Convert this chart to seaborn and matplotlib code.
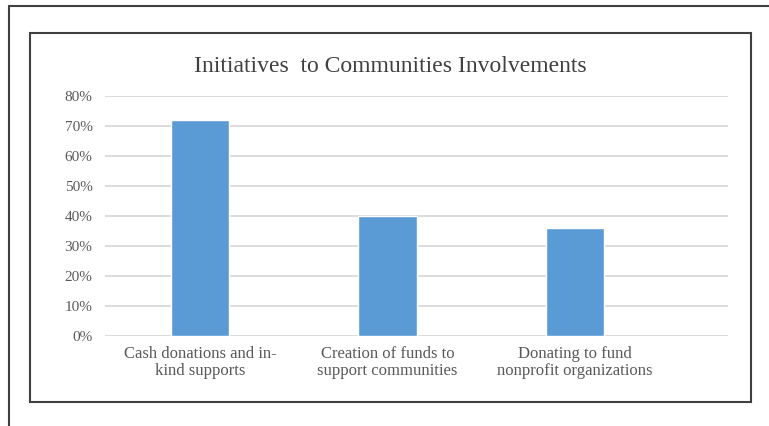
import matplotlib
matplotlib.use("Agg")
import matplotlib.pyplot as plt
import seaborn as sns
import pandas as pd
from matplotlib.lines import Line2D
from matplotlib.patches import Rectangle
from matplotlib.ticker import PercentFormatter

categories = ["Cash donations and in-\nkind supports",
              "Creation of funds to\nsupport communities",
              "Donating to fund\nnonprofit organizations"]
values = [0.72, 0.40, 0.36]
yticks = [0, 0.1, 0.2, 0.3, 0.4, 0.5, 0.6, 0.7, 0.8]
title = "Initiatives  to Communities Involvements"

sns.set_theme(style="white")
plt.rcParams['font.family'] = ['Liberation Serif', 'DejaVu Serif']

W, H = 769, 426
fig = plt.figure(figsize=(W / 100, H / 100), dpi=100)
ax = fig.add_axes([105 / W, 1 - 336 / H, (728 - 105) / W, (336 - 96) / H])

df = pd.DataFrame({"cat": categories, "val": values})
sns.barplot(data=df, x="cat", y="val", color="#5B9BD5", width=0.31,
            saturation=1, ax=ax, zorder=3)

ax.set_ylim(0, 0.8)
ax.set_xlim(-0.507, 2.816)
ax.set_yticks(yticks)
ax.yaxis.set_major_formatter(PercentFormatter(1.0, decimals=0))
ax.grid(axis="y", color="#D9D9D9", linewidth=1.3, zorder=0)
ax.set_axisbelow(True)
for s in ax.spines.values():
    s.set_visible(False)
ax.set_xlabel("")
ax.set_ylabel("")
ax.tick_params(axis="y", labelsize=11, labelcolor="#595959", length=0, pad=9)
ax.tick_params(axis="x", labelsize=12, labelcolor="#595959", length=0, pad=7)
for lbl in ax.get_xticklabels():
    lbl.set_linespacing(1.1)

fig.text(390 / W, 1 - 66 / H, title, ha="center", va="center",
         fontsize=17, color="#404040")

# inner chart border
fig.patches.append(Rectangle((30 / W, 1 - 402 / H), 721 / W, 369 / H,
                             transform=fig.transFigure, fill=False,
                             edgecolor="#404040", linewidth=1.5))
# outer frame lines (left and top)
fig.lines.append(Line2D([9 / W, 9 / W], [0, 1 - 6 / H], transform=fig.transFigure,
                        color="#404040", linewidth=1.5))
fig.lines.append(Line2D([9 / W, 1], [1 - 6 / H, 1 - 6 / H], transform=fig.transFigure,
                        color="#404040", linewidth=1.5))

fig.savefig("out.png", dpi=100, facecolor="white")
